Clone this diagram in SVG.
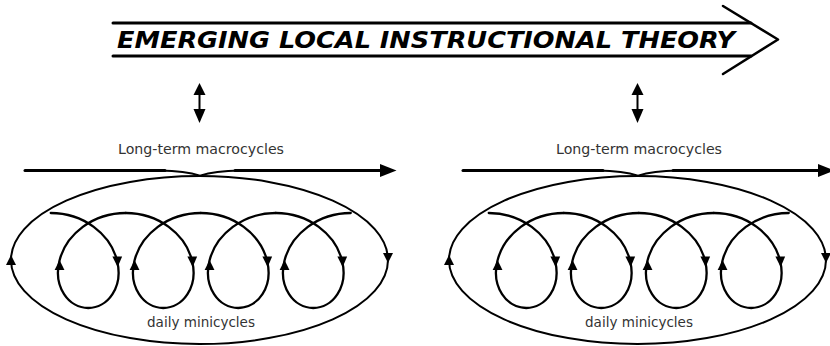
<svg xmlns="http://www.w3.org/2000/svg" xmlns:xlink="http://www.w3.org/1999/xlink" width="830" height="346" viewBox="0 0 830 346">
  <style>
    .ln { fill: none; stroke: #000; stroke-linecap: round; stroke-linejoin: round; }
    .head { fill: #000; stroke: none; }
    .lbl { font-family: "DejaVu Sans", Verdana, sans-serif; font-size: 13.5px; fill: #333; text-anchor: middle; }
    .title { font-family: "DejaVu Sans", Verdana, sans-serif; font-size: 23.5px; font-weight: bold; font-style: italic; fill: #000; }
  </style>
  <defs>
    <g id="period">
      <path class="ln" stroke-width="2.3" d="M0,-47.5 C15.56,-47.5 31.05,-42.38 42.97,-33.59 C54.89,-24.8 63.13,-12.44 66.26,0 C69.39,12.44 67.39,24.8 61.72,33.59 C56.05,42.38 46.82,47.5 37.51,47.5 C28.2,47.5 18.97,42.38 13.3,33.59 C7.63,24.8 5.64,12.44 8.77,0 C11.9,-12.44 20.14,-24.8 32.06,-33.59 C43.98,-42.38 59.44,-47.5 75,-47.5"/>
      <polygon class="head" points="61.6,-4 71.4,-4 66.9,6.5"/>
      <polygon class="head" points="3.9,9.5 13.7,9.5 8.8,-0.5"/>
    </g>
    <g id="panel">
      <g id="sync">
        <line class="ln" stroke-width="2" x1="199.5" y1="93" x2="199.5" y2="110"/>
        <polygon class="head" points="199.5,83 193.5,95 205.5,95"/>
        <polygon class="head" points="193.5,109 205.5,109 199.5,123"/>
      </g>
      <text class="lbl" x="201" y="154" textLength="166" lengthAdjust="spacingAndGlyphs">Long-term macrocycles</text>
      <g id="macro">
        <path class="ln" stroke-width="3" d="M25,170.5 L165,170.5"/>
        <path class="ln" stroke-width="1.8" d="M160,170.5 Q185,171 200,175.5 Q215,171 240,170.5"/>
        <path class="ln" stroke-width="3" d="M235,170.5 L382,170.5"/>
        <polygon class="head" points="380,164 396.5,170.5 380,177"/>
      </g>
      <g id="outer">
        <ellipse class="ln" stroke-width="2" cx="199.5" cy="260" rx="188.5" ry="84"/>
        <polygon class="head" points="11,255 6,265 16,265"/>
        <polygon class="head" points="383,253 393,253 388,263"/>
      </g>
      <g id="mini" transform="translate(50.75,260.5)">
        <use xlink:href="#period"/>
        <use xlink:href="#period" transform="translate(75,0)"/>
        <use xlink:href="#period" transform="translate(150,0)"/>
        <use xlink:href="#period" transform="translate(225,0)"/>
      </g>
      <text class="lbl" x="201" y="327" textLength="108" lengthAdjust="spacingAndGlyphs">daily minicycles</text>
    </g>
  </defs>

  <g id="theory">
    <line class="ln" stroke-width="3" x1="113" y1="23" x2="751" y2="23"/>
    <line class="ln" stroke-width="3" x1="113" y1="56" x2="751" y2="56"/>
    <polyline class="ln" stroke-width="2.5" points="723,6 778,39.5 723,74"/>
    <text class="title" x="117" y="48" textLength="618" lengthAdjust="spacingAndGlyphs">EMERGING LOCAL INSTRUCTIONAL THEORY</text>
  </g>

  <g id="panel-left">
    <use xlink:href="#panel"/>
  </g>
  <g id="panel-right" transform="translate(438,0)">
    <use xlink:href="#panel"/>
  </g>
</svg>
